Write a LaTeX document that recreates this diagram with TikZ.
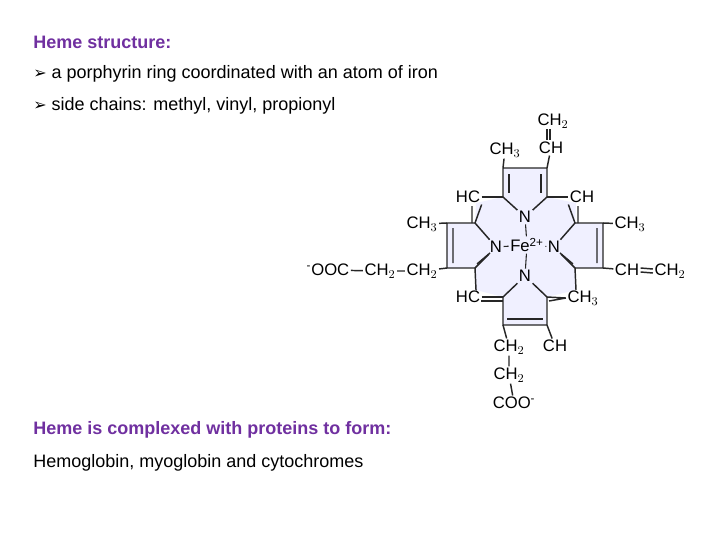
\documentclass[tikz,border=0pt]{standalone}
\usepackage{fontspec}
\setmainfont{Liberation Sans}
\newfontfamily\dejavu{DejaVu Sans}
\definecolor{hpurple}{RGB}{112,48,160}
\begin{document}
\begin{tikzpicture}[x=0.75pt,y=-0.75pt,
  txt/.style={anchor=west,inner sep=0,font=\fontsize{13.5}{15}\selectfont},
  head/.style={txt,text=hpurple,font=\fontsize{13.5}{15}\selectfont\bfseries},
  lab/.style={inner sep=1pt,font=\fontsize{12.5}{13}\selectfont},
  bd/.style={line width=1.1pt,black!85}]
\useasboundingbox (0,0) rectangle (720,540);
\node[head] (t1) at (33,42) {Heme structure:};
\node[txt] (b1) at (33,74) {{\dejavu\fontsize{12}{12}\selectfont ➢} a porphyrin ring coordinated with an atom of iron};
\node[txt] (b2) at (33,106) {{\dejavu\fontsize{12}{12}\selectfont ➢} side chains: methyl, vinyl, propionyl};
\node[head] (t2) at (33,430) {Heme is complexed with proteins to form:};
\node[txt] (t3) at (33,463) {Hemoglobin, myoglobin and cytochromes};
% fill
\fill[blue!6] (503,168)--(547,168)--(547,197)--(576,203)--(575,223)--(603,223)--(603,268)--(575,268)--(576,290)--(547,297)--(547,325)--(503,325)--(503,297)--(476,290)--(475,268)--(447,268)--(447,223)--(475,223)--(476,203)--(503,197)--cycle;
% atoms
\coordinate (tA) at (503,168); \coordinate (tB) at (547,168);
\coordinate (tL) at (503,197); \coordinate (tR) at (547,197);
\coordinate (lU) at (475,223); \coordinate (lBU) at (447,223);
\coordinate (lBL) at (447,268); \coordinate (lL) at (475,268);
\coordinate (rU) at (575,223); \coordinate (rBU) at (603,223);
\coordinate (rBL) at (603,268); \coordinate (rL) at (575,268);
\coordinate (bL) at (503,297); \coordinate (bR) at (547,297);
\coordinate (bA) at (503,325); \coordinate (bB) at (547,325);
\node[lab] (Nt) at (525,217) {N};
\node[lab] (Nl) at (496,247) {N};
\node[lab] (Nr) at (554,247) {N};
\node[lab] (Nb) at (525,276) {N};
\node[lab] (Fe) at (527,245) {Fe\textsuperscript{2+}};
\node[lab] (CH3t) at (505,150) {CH$_3$};
\node[lab] (CHt) at (551,148) {CH};
\node[lab] (CH2t) at (553,121) {CH$_2$};
\node[lab] (HCtl) at (468,197) {HC};
\node[lab] (CHtr) at (582,197) {CH};
\node[lab] (CH3l) at (422,224) {CH$_3$};
\node[lab] (CH3r) at (630,224) {CH$_3$};
\node[lab] (CH2l) at (422,271) {CH$_2$};
\node[lab] (CH2m) at (380,271) {CH$_2$};
\node[lab] (OOC) at (328,270) {\textsuperscript{-}OOC};
\node[lab] (CHr) at (627,270) {CH};
\node[lab] (CH2r) at (670,271) {CH$_2$};
\node[lab] (HCbl) at (468,297) {HC};
\node[lab] (CH3b) at (583,298) {CH$_3$};
\node[lab] (CH2b1) at (509,347) {CH$_2$};
\node[lab] (CHb) at (555,346) {CH};
\node[lab] (CH2b2) at (509,375) {CH$_2$};
\node[lab] (COO) at (514,403) {COO\textsuperscript{-}};
% top pyrrole
\draw[bd] (tA)--(tB) (tA)--(tL) (tB)--(tR) (tL)--(Nt) (tR)--(Nt);
\draw[bd] (509,174)--(509,193) (541,174)--(541,193);
\draw[bd] (tA)--(CH3t) (tB)--(CHt);
\draw[bd] (547,129)--(547,140) (550,129)--(550,140);
\draw[bd] (HCtl)--(tL) (tR)--(CHtr);
% left pyrrole
\draw[bd] (lU)--(lBU)--(lBL)--(lL) (lU)--(Nl) (lL)--(Nl);
\draw[bd] (453,228)--(453,263) (477,264)--(490,253);
\draw[bd] (HCtl.south east)--(lU) (472,206)--(472,223);
\draw[bd] (lBU)--(CH3l) (lBL)--(CH2l);
\draw[bd] (CH2l)--(CH2m) (CH2m)--(OOC);
\draw[bd] (lL)--(476,290) (476,290)--(HCbl);
% right pyrrole
\draw[bd] (rU)--(rBU)--(rBL)--(rL) (rU)--(Nr) (rL)--(Nr);
\draw[bd] (597,228)--(597,263) (573,264)--(560,253);
\draw[bd] (CHtr.south west)--(rU) (578,206)--(578,223);
\draw[bd] (rBU)--(CH3r) (rBL)--(CHr);
\draw[bd] ([yshift=-1.5pt]CHr.east)--([yshift=-1.5pt]CH2r.west) ([yshift=1.5pt]CHr.east)--([yshift=1.5pt]CH2r.west);
\draw[bd] (rL)--(576,290);
% bottom pyrrole
\draw[bd] (bL)--(Nb) (bR)--(Nb) (bL)--(bA)--(bB)--(bR);
\draw[bd] (507,319)--(543,319);
\draw[bd] (HCbl.east)--(bL) (481,301)--(503,301);
\draw[bd] (bR)--(CH3b.west) (549,301)--(CH3b.west);
\draw[bd] (bA)--(CH2b1) (bB)--(CHb);
\draw[bd] (CH2b1)--(CH2b2) (CH2b2)--(COO);
% Fe bonds
\draw[bd,line width=0.8pt] (Fe)--(Nt) (Fe)--(Nb) (Fe)--(Nl) (Fe)--(Nr);
\end{tikzpicture}
\end{document}
